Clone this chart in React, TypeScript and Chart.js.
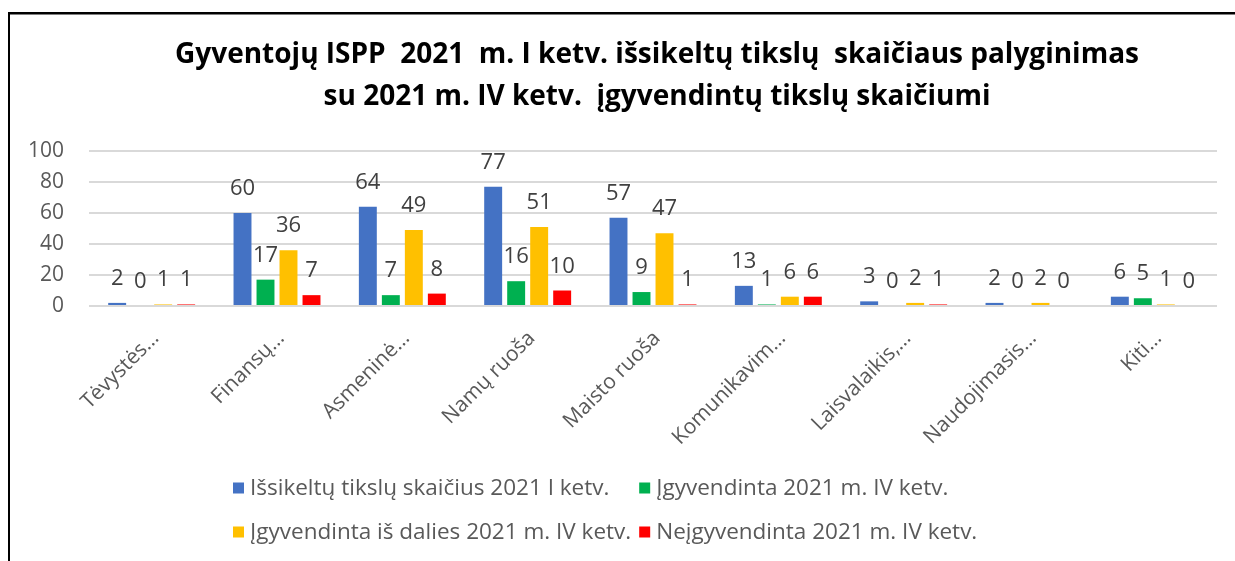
import React, { useEffect, useRef } from 'react';
import { Chart, registerables } from 'chart.js';

Chart.register(...registerables);

const titleLines = [
  'Gyventojų ISPP  2021  m. I ketv. išsikeltų tikslų  skaičiaus palyginimas',
  'su 2021 m. IV ketv.  įgyvendintų tikslų skaičiumi',
];

const categories = [
  'Tėvystės…',
  'Finansų…',
  'Asmeninė…',
  'Namų ruoša',
  'Maisto ruoša',
  'Komunikavim…',
  'Laisvalaikis,…',
  'Naudojimasis…',
  'Kiti…',
];

const seriesNames = [
  'Išsikeltų tikslų skaičius 2021 I ketv.',
  'Įgyvendinta 2021 m. IV ketv.',
  'Įgyvendinta iš dalies 2021 m. IV ketv.',
  'Neįgyvendinta 2021 m. IV ketv.',
];

const issikeltuTiksluSkaicius = [2, 60, 64, 77, 57, 13, 3, 2, 6];
const igyvendinta = [0, 17, 7, 16, 9, 1, 0, 0, 5];
const igyvendintaIsDalies = [1, 36, 49, 51, 47, 6, 2, 2, 1];
const neigyvendinta = [1, 7, 8, 10, 1, 6, 1, 0, 0];

const yTickValues = [0, 20, 40, 60, 80, 100];

const seriesColors = ['#4472C4', '#00B050', '#FFC000', '#FF0000'];

const FONT = '"Open Sans", Lato, sans-serif';

const framePlugin = {
  id: 'frame',
  beforeDraw(chart: any) {
    const { ctx, width, height } = chart;
    ctx.save();
    ctx.fillStyle = '#ffffff';
    ctx.fillRect(0, 0, width, height);
    ctx.fillStyle = '#000000';
    ctx.fillRect(8, 12, width - 8, 2.5);
    ctx.fillRect(8, 12, 2, height - 12);
    ctx.restore();
  },
};

const titlePlugin = {
  id: 'customTitle',
  afterDraw(chart: any) {
    const { ctx, chartArea } = chart;
    const cx = (chartArea.left + chartArea.right) / 2 + 4;
    ctx.save();
    ctx.font = `bold 28px ${FONT}`;
    ctx.fillStyle = '#000000';
    ctx.textAlign = 'center';
    ctx.textBaseline = 'middle';
    const ys = [55, 97];
    titleLines.forEach((line, i) => ctx.fillText(line, cx, ys[i]));
    ctx.restore();
  },
};

const dataLabelPlugin = {
  id: 'dataLabels',
  afterDatasetsDraw(chart: any) {
    const { ctx } = chart;
    ctx.save();
    ctx.font = `22px ${FONT}`;
    ctx.fillStyle = '#404040';
    ctx.textAlign = 'center';
    ctx.textBaseline = 'alphabetic';
    chart.data.datasets.forEach((ds: any, di: number) => {
      const meta = chart.getDatasetMeta(di);
      meta.data.forEach((el: any, i: number) => {
        ctx.fillText(String(ds.data[i]), el.x, el.y - 18);
      });
    });
    ctx.restore();
  },
};

const legendPlugin = {
  id: 'customLegend',
  afterDraw(chart: any) {
    const { ctx } = chart;
    ctx.save();
    ctx.font = `22.5px ${FONT}`;
    ctx.textBaseline = 'middle';
    ctx.textAlign = 'left';
    const box = 11;
    const gap = 6;
    const colGap = 8;
    const ds = chart.data.datasets;
    const widths = ds.map((d: any) => box + gap + ctx.measureText(d.label).width);
    const col1 = Math.max(widths[0], widths[2]) + colGap;
    const left = 233;
    const rows = [488, 532];
    ds.forEach((d: any, i: number) => {
      const x = left + (i % 2) * col1;
      const y = rows[Math.floor(i / 2)];
      ctx.fillStyle = d.backgroundColor;
      ctx.fillRect(x, y - box / 2, box, box);
      ctx.fillStyle = '#595959';
      ctx.fillText(d.label, x + box + gap, y + 1);
    });
    ctx.restore();
  },
};

export default function App() {
  const canvasRef = useRef<HTMLCanvasElement>(null);

  useEffect(() => {
    if (!canvasRef.current) return;
    const seriesData = [issikeltuTiksluSkaicius, igyvendinta, igyvendintaIsDalies, neigyvendinta];
    const chart = new Chart(canvasRef.current, {
      type: 'bar',
      data: {
        labels: categories,
        datasets: seriesNames.map((name, i) => ({
          label: name,
          data: seriesData[i],
          backgroundColor: seriesColors[i],
          borderWidth: 0,
          categoryPercentage: 0.734,
          barPercentage: 0.78,
        })),
      },
      options: {
        responsive: false,
        animation: false,
        layout: { padding: { left: 10, right: 18, top: 151, bottom: 0 } },
        plugins: {
          legend: { display: false },
          title: { display: false },
          tooltip: { enabled: false },
        },
        scales: {
          x: {
            grid: { display: false },
            border: { display: false },
            ticks: {
              autoSkip: false,
              maxRotation: 45,
              minRotation: 45,
              padding: 12,
              labelOffset: 4,
              color: '#595959',
              font: { family: FONT, size: 21 },
            },
            afterFit(scale: any) {
              scale.height = 255;
            },
          },
          y: {
            min: 0,
            max: 100,
            afterBuildTicks(scale: any) {
              scale.ticks = yTickValues.map((v) => ({ value: v }));
            },
            grid: { color: '#d9d9d9', lineWidth: 2, drawTicks: false },
            border: { display: false },
            ticks: {
              padding: 25,
              color: '#595959',
              font: { family: FONT, size: 21 },
            },
            afterFit(scale: any) {
              scale.width = 79;
            },
          },
        },
      },
      plugins: [framePlugin, titlePlugin, dataLabelPlugin, legendPlugin],
    } as any);
    return () => chart.destroy();
  }, []);

  return (
    <div style={{ position: 'fixed', left: 0, top: 0, width: 1235, height: 561 }}>
      <canvas ref={canvasRef} width={1235} height={561} style={{ display: 'block' }} />
    </div>
  );
}
